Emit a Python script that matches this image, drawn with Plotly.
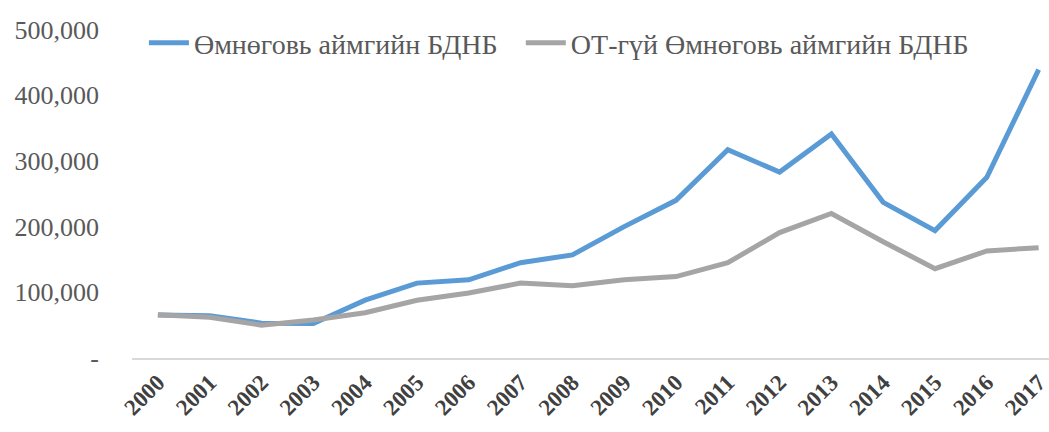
import plotly.graph_objects as go

years = [str(y) for y in range(2000, 2018)]
omnogovi_gdp = [65600, 64500, 53000, 52500, 88000, 114000, 119000, 145000, 157000,
                200000, 240000, 317000, 283000, 341000, 237000, 194000, 275000, 439000]
omnogovi_gdp_nonmining = [66000, 62000, 50000, 58000, 69000, 88000, 99000, 114000, 110000,
                          119000, 124000, 145000, 191000, 220000, 177000, 136000, 163000, 168000]
names = ["Өмнөговь аймгийн БДНБ", "ОТ-гүй Өмнөговь аймгийн БДНБ"]
ytick_vals = [0, 100000, 200000, 300000, 400000, 500000]
ytick_text = ["-", "100,000", "200,000", "300,000", "400,000", "500,000"]

fig = go.Figure()
fig.add_trace(go.Scatter(x=years, y=omnogovi_gdp, mode="lines", name=names[0],
                         line=dict(color="#5B9BD5", width=5), legend="legend"))
fig.add_trace(go.Scatter(x=years, y=omnogovi_gdp_nonmining, mode="lines", name=names[1],
                         line=dict(color="#A5A5A5", width=5), legend="legend2"))

font_family = "Liberation Serif"
legend_common = dict(orientation="h", xanchor="left", y=0.94, yanchor="middle",
                     bgcolor="rgba(0,0,0,0)",
                     font=dict(size=28, color="#595959", family=font_family),
                     itemwidth=40)
fig.update_layout(
    width=1049, height=432,
    margin=dict(l=132, r=0, t=23, b=74),
    paper_bgcolor="white", plot_bgcolor="white",
    font=dict(family=font_family, color="#595959", size=22),
    showlegend=True,
    legend=dict(x=0.013, **legend_common),
    legend2=dict(x=0.424, **legend_common),
    xaxis=dict(type="category", range=[-0.5, 17.2], showgrid=False, zeroline=False,
               showline=True, linecolor="#D9D9D9", linewidth=2, ticks="", automargin=False,
               tickangle=-45, tickfont=dict(size=23, color="#404040", family=font_family,
                                            weight="bold")),
    yaxis=dict(range=[0, 510000], showgrid=False, zeroline=False, showline=False,
               tickvals=ytick_vals, ticktext=ytick_text, ticks="", automargin=False,
               ticklabelstandoff=32, tickfont=dict(size=26, color="#595959", family=font_family)),
)

fig.write_html("out.html", config={"displayModeBar": False},
               post_script="document.body.style.margin='0';document.body.style.overflow='hidden';")
